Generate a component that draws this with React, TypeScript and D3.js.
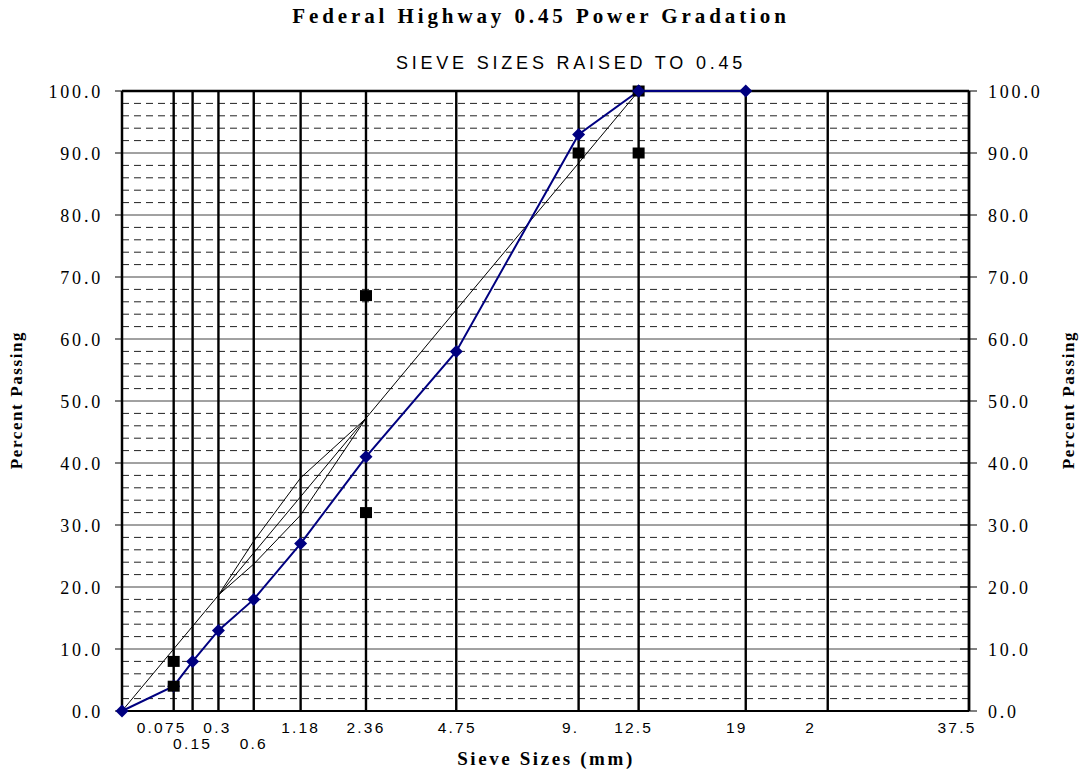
import React from "react";
import * as d3 from "d3";

const W = 1083;
const H = 776;

// Sieve sizes (mm) drawn as vertical grid lines
const sieveSizes = [0.075, 0.15, 0.3, 0.6, 1.18, 2.36, 4.75, 9.5, 12.5, 19, 25, 37.5];
// Axis tick labels (text, sieve size, row)
const tickLabels = ["0.075", "0.15", "0.3", "0.6", "1.18", "2.36", "4.75", "9.", "12.5", "19", "2", "37.5"];
const tickSizes = [0.075, 0.15, 0.3, 0.6, 1.18, 2.36, 4.75, 9.5, 12.5, 19, 25, 37.5];
const tickRows = [0, 1, 0, 1, 0, 0, 0, 0, 0, 0, 0, 0];

// Gradation (blue line with diamonds)
const gradSizes = [0, 0.075, 0.15, 0.3, 0.6, 1.18, 2.36, 4.75, 9.5, 12.5, 19];
const gradPassing = [0, 4, 8, 13, 18, 27, 41, 58, 93, 100, 100];

// Control points (black squares)
const ctrlSizes = [0.075, 0.075, 2.36, 2.36, 9.5, 12.5, 12.5];
const ctrlPassing = [4, 8, 32, 67, 90, 90, 100];

// Maximum density line
const maxDenSizes = [0, 12.5];
const maxDenPassing = [0, 100];

// Restricted zone boundaries
const rzSizes = [0.3, 0.6, 1.18, 2.36];
const rzUpper = [18.7, 27.4, 37.6, 47.2];
const rzLower = [18.7, 23.7, 31.6, 47.2];

const yMajor = [0, 10, 20, 30, 40, 50, 60, 70, 80, 90, 100];

const POW = 0.45;

export default function App() {
  const left = 122, right = 969, top = 91, bottom = 711;
  const x = d3.scaleLinear().domain([0, Math.pow(37.5, POW)]).range([left, right]);
  const y = d3.scaleLinear().domain([0, 100]).range([bottom, top]);
  const sx = (s: number) => x(Math.pow(s, POW));

  const line = d3
    .line<[number, number]>()
    .x((d) => sx(d[0]))
    .y((d) => y(d[1]));

  const minor: number[] = [];
  for (let v = 2; v < 100; v += 2) if (v % 10 !== 0) minor.push(v);

  const labelShift: Record<string, number> = {
    "0.075": -12, "0.3": -1, "4.75": 1, "9.": -8, "12.5": -5, "19": -9, "2": -17, "37.5": -12,
  };

  const serif = "'Liberation Serif', 'Times New Roman', serif";
  const sans = "'Liberation Sans', Arial, sans-serif";

  const gradPts = gradSizes.map((s, i) => [s, gradPassing[i]] as [number, number]);
  const diamond = "M0,-6.5L6.5,0L0,6.5L-6.5,0Z";

  return (
    <svg width={W} height={H} style={{ position: "absolute", left: 0, top: 0, background: "#fff" }}>
      <rect x={0} y={0} width={W} height={H} fill="#fff" />
      {/* Titles */}
      <text x={541} y={23} textAnchor="middle" fontFamily={serif} fontWeight="bold" fontSize={21} letterSpacing={3.9}>
        Federal Highway 0.45 Power Gradation
      </text>
      <text x={571} y={69} textAnchor="middle" fontFamily={sans} fontSize={18} letterSpacing={3.8}>
        SIEVE SIZES RAISED TO 0.45
      </text>
      {/* minor dashed grid */}
      {minor.map((v) => (
        <line key={"m" + v} x1={left} x2={right} y1={y(v)} y2={y(v)} stroke="#222" strokeWidth={1} strokeDasharray="7,5" />
      ))}
      {/* major grid */}
      {yMajor.slice(1, -1).map((v) => (
        <line key={"M" + v} x1={left} x2={right} y1={y(v)} y2={y(v)} stroke="#444" strokeWidth={1} />
      ))}
      {/* vertical sieve lines */}
      {sieveSizes.map((s) => (
        <line key={"v" + s} x1={sx(s)} x2={sx(s)} y1={top} y2={bottom} stroke="#000" strokeWidth={2.4} />
      ))}
      {/* frame */}
      <line x1={left} x2={right} y1={top} y2={top} stroke="#000" strokeWidth={2.5} />
      <line x1={left} x2={right} y1={bottom} y2={bottom} stroke="#000" strokeWidth={1.8} />
      <line x1={left} x2={left} y1={top} y2={bottom} stroke="#000" strokeWidth={2.5} />
      <line x1={right} x2={right} y1={top} y2={bottom} stroke="#000" strokeWidth={2.5} />
      {/* y ticks & labels */}
      {yMajor.map((v) => (
        <g key={"yt" + v}>
          <line x1={left - 7} x2={left} y1={y(v)} y2={y(v)} stroke="#000" strokeWidth={1} />
          <line x1={right - 9} x2={right + 8} y1={y(v)} y2={y(v)} stroke="#000" strokeWidth={1} />
          <text x={103} y={y(v) + 7} textAnchor="end" fontFamily={serif} fontSize={18} letterSpacing={2.8}>
            {v.toFixed(1)}
          </text>
          <text x={988} y={y(v) + 7} textAnchor="start" fontFamily={serif} fontSize={18} letterSpacing={2.8}>
            {v.toFixed(1)}
          </text>
        </g>
      ))}
      {/* x tick labels */}
      {tickLabels.map((t, i) => (
        <text
          key={"xl" + t}
          x={sx(tickSizes[i]) + (labelShift[t] || 0)}
          y={tickRows[i] === 0 ? 733 : 749}
          textAnchor="middle"
          fontFamily={sans}
          fontSize={15.5}
          letterSpacing={2.2}
        >
          {t}
        </text>
      ))}
      {/* axis titles */}
      <text x={546} y={765} textAnchor="middle" fontFamily={serif} fontWeight="bold" fontSize={19} letterSpacing={2.6}>
        Sieve Sizes (mm)
      </text>
      <text transform={`translate(22,400) rotate(-90)`} textAnchor="middle" fontFamily={serif} fontWeight="bold" fontSize={17} letterSpacing={1.6}>
        Percent Passing
      </text>
      <text transform={`translate(1074,400) rotate(-90)`} textAnchor="middle" fontFamily={serif} fontWeight="bold" fontSize={17} letterSpacing={1.6}>
        Percent Passing
      </text>
      {/* max density & restricted zone */}
      <path d={line(maxDenSizes.map((s, i) => [s, maxDenPassing[i]] as [number, number])) || ""} fill="none" stroke="#000" strokeWidth={1} />
      <path d={line(rzSizes.map((s, i) => [s, rzUpper[i]] as [number, number])) || ""} fill="none" stroke="#000" strokeWidth={1} />
      <path d={line(rzSizes.map((s, i) => [s, rzLower[i]] as [number, number])) || ""} fill="none" stroke="#000" strokeWidth={1} />
      {/* gradation */}
      <path d={line(gradPts) || ""} fill="none" stroke="#000080" strokeWidth={2} />
      {gradPts.map((d, i) => (
        <path key={"dm" + i} transform={`translate(${sx(d[0])},${y(d[1])})`} d={diamond} fill="#000080" />
      ))}
      {/* control points */}
      {ctrlSizes.map((s, i) => (
        <rect key={"sq" + i} x={sx(s) - 6} y={y(ctrlPassing[i]) - 5.5} width={12} height={11} fill="#000" />
      ))}
      {/* diamond at 12.5 drawn over square */}
      <path transform={`translate(${sx(12.5)},${y(100)})`} d={diamond} fill="#000080" />
    </svg>
  );
}
